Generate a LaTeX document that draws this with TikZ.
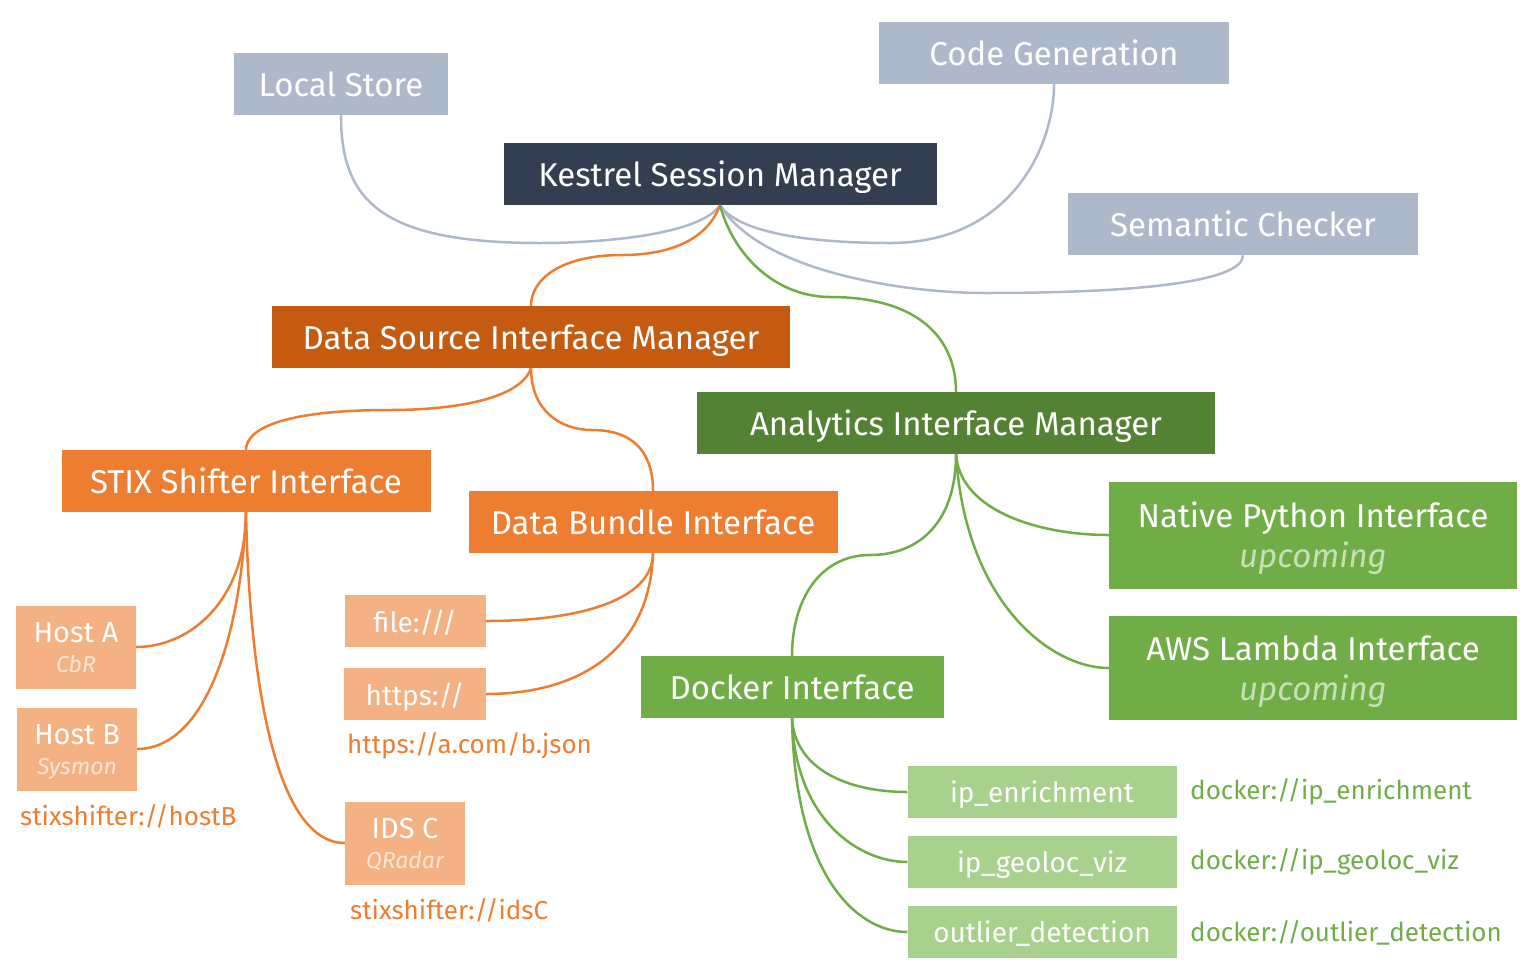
\documentclass[tikz,border=0pt]{standalone}
\usepackage{fontspec}
\setmainfont{Fira Sans}
\definecolor{kgray}{HTML}{ADB9CA}
\definecolor{knavy}{HTML}{333F50}
\definecolor{kdorange}{HTML}{C55A11}
\definecolor{korange}{HTML}{ED7D31}
\definecolor{klorange}{HTML}{F4B183}
\definecolor{kpeach}{HTML}{FBE5D6}
\definecolor{kdgreen}{HTML}{548235}
\definecolor{kgreen}{HTML}{70AD47}
\definecolor{klgreen}{HTML}{A9D18E}
\definecolor{kpale}{HTML}{C5E0B4}
\newcommand\srcsub[1]{{\fontsize{23}{26}\selectfont\itshape\color{kpeach}#1}}
\newcommand\upcoming{{\itshape\color{kpale}upcoming}}

\begin{document}
\begin{tikzpicture}[x=1pt,y=-1pt,
    box/.style={inner sep=0pt,text depth=0pt,text=white,font=\fontsize{33}{40}\selectfont,align=center},
    big/.style={box,minimum height=62pt},
    leaf/.style={box,font=\fontsize{28}{32}\selectfont},
    host/.style={leaf,fill=klorange,minimum width=120pt,minimum height=83pt,font=\fontsize{29}{33}\selectfont},
    url/.style={inner sep=0pt,anchor=west,font=\fontsize{26}{30}\selectfont},
    link/.style={line width=2.5pt}]
      \useasboundingbox (0,0) rectangle (1538,975);
      % top level
      \node[big,fill=kgray,minimum width=214pt] (local) at (341,84) {Local Store};
      \node[big,fill=kgray,minimum width=350pt] (codegen) at (1054,53) {Code Generation};
      \node[big,fill=knavy,minimum width=433pt] (session) at (720,174) {Kestrel Session Manager};
      \node[big,fill=kgray,minimum width=350pt] (checker) at (1243,224) {Semantic Checker};
      \node[big,fill=kdorange,minimum width=518pt] (dsim) at (531,337) {Data Source Interface Manager};
      \node[big,fill=kdgreen,minimum width=518pt] (aim) at (956,423) {Analytics Interface Manager};
      % data sources
      \node[big,fill=korange,minimum width=369pt] (stix) at (246,481) {STIX Shifter Interface};
      \node[big,fill=korange,minimum width=369pt] (bundle) at (653,522) {Data Bundle Interface};
      \node[host] (hosta) at (76,647) {Host A\\[-3pt]\srcsub{CbR}};
      \node[host] (hostb) at (77,749) {Host B\\[-3pt]\srcsub{Sysmon}};
      \node[host] (idsc) at (405,843) {IDS C\\[-3pt]\srcsub{QRadar}};
      \node[leaf,fill=klorange,minimum width=141pt,minimum height=52pt] (file) at (415,621) {file:///};
      \node[leaf,fill=klorange,minimum width=142pt,minimum height=52pt] (https) at (415,694) {https://};
      \node[url,text=korange] (httpsurl) at (347,746) {https://a.com/b.json};
      \node[url,text=korange] (hostburl) at (20,816) {stixshifter://hostB};
      \node[url,text=korange] (idscurl) at (350,910) {stixshifter://idsC};
      % analytics
      \node[big,fill=kgreen,minimum width=408pt,minimum height=107pt] (python) at (1313,535) {Native Python Interface\\\upcoming};
      \node[big,fill=kgreen,minimum width=408pt,minimum height=104pt] (lambda) at (1313,668) {AWS Lambda Interface\\\upcoming};
      \node[big,fill=kgreen,minimum width=303pt] (docker) at (792,687) {Docker Interface};
      \node[leaf,fill=klgreen,minimum width=269pt,minimum height=52pt] (enrich) at (1042,792) {ip\_enrichment};
      \node[leaf,fill=klgreen,minimum width=269pt,minimum height=52pt] (geoloc) at (1042,862) {ip\_geoloc\_viz};
      \node[leaf,fill=klgreen,minimum width=269pt,minimum height=52pt] (outlier) at (1042,932) {outlier\_detection};
      \node[url,text=kgreen] (enrichurl) at (1190,792) {docker://ip\_enrichment};
      \node[url,text=kgreen] (geolocurl) at (1190,862) {docker://ip\_geoloc\_viz};
      \node[url,text=kgreen] (outlierurl) at (1190,933) {docker://outlier\_detection};
      % links from the session manager
      \draw[link,kgray] (session.south) .. controls +(-20,30) and +(60,0) .. (540,243) .. controls +(-160,0) and +(0,85) .. (local.south);
      \draw[link,kgray] (session.south) .. controls +(20,30) and +(-70,0) .. (890,243) .. controls +(120,0) and +(0,63) .. (codegen.south);
      \draw[link,kgray] (session.south) .. controls +(40,65) and +(-85,0) .. (985,293) .. controls +(165,0) and +(0,25) .. (checker.south);
      \draw[link,korange] (session.south) .. controls +(-15,40) and +(38,0) .. (622,255) .. controls +(-62,0) and +(0,-26) .. (dsim.north);
      \draw[link,kgreen] (session.south) .. controls +(15,55) and +(-50,0) .. (830,297) .. controls +(90,0) and +(0,-52) .. (aim.north);
      % data source links
      \draw[link,korange] (dsim.south) .. controls +(-11,32) and +(60,0) .. (390,410) .. controls +(-110,0) and +(0,-20) .. (stix.north);
      \draw[link,korange] (dsim.south) .. controls +(0,42) and +(-32,0) .. (592,430) .. controls +(48,0) and +(0,-31) .. (bundle.north);
      \draw[link,korange] (stix.south) .. controls +(0,88) and +(54,0) .. (hosta.east);
      \draw[link,korange] (stix.south) .. controls +(-6,138) and +(63,0) .. (hostb.east);
      \draw[link,korange] (stix.south) .. controls +(4,188) and +(-65,0) .. (idsc.west);
      \draw[link,korange] (bundle.south) .. controls +(0,47) and +(93,0) .. (file.east);
      \draw[link,korange] (bundle.south) .. controls +(-3,97) and +(93,0) .. (https.east);
      % analytics links
      \draw[link,kgreen] (aim.south) .. controls +(4,57) and +(-69,0) .. (python.west);
      \draw[link,kgreen] (aim.south) .. controls +(9,147) and +(-59,0) .. (lambda.west);
      \draw[link,kgreen] (aim.south) .. controls +(0,67) and +(50,0) .. (870,555) .. controls +(-50,0) and +(0,-56) .. (docker.north);
      \draw[link,kgreen] (docker.south) .. controls +(3,52) and +(-58,0) .. (enrich.west);
      \draw[link,kgreen] (docker.south) .. controls +(3,102) and +(-48,0) .. (geoloc.west);
      \draw[link,kgreen] (docker.south) .. controls +(3,162) and +(-48,0) .. (outlier.west);
    \end{tikzpicture}
\end{document}
